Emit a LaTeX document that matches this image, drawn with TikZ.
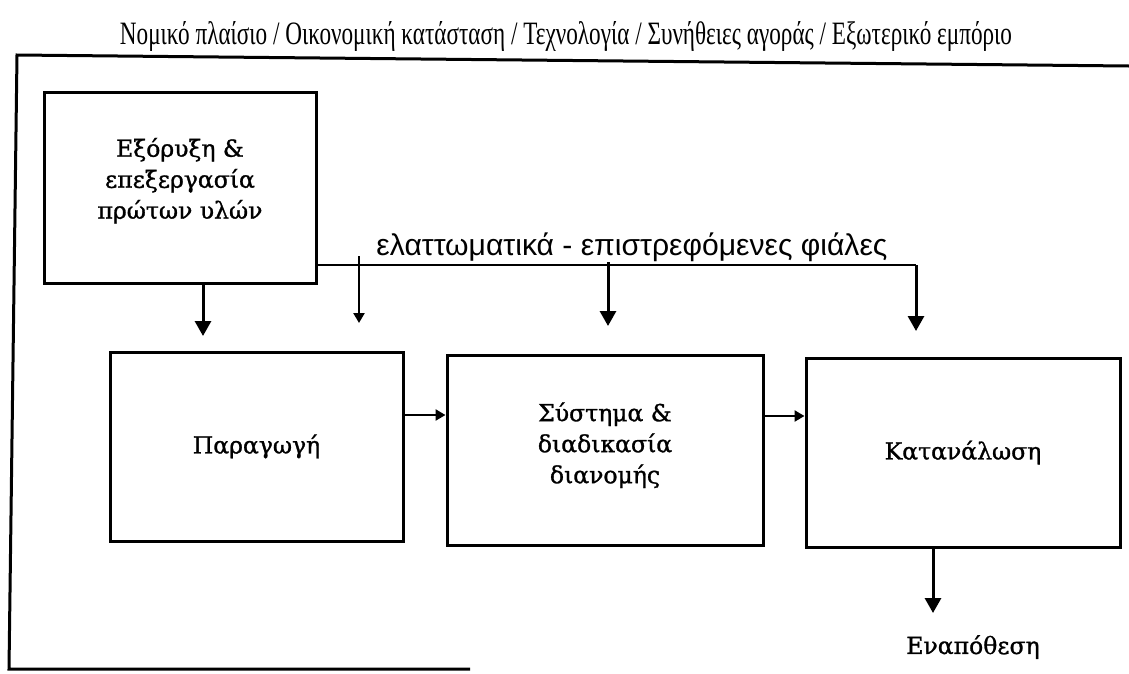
\documentclass[tikz,border=0pt]{standalone}
\usepackage{fontspec}
\setmainfont{Liberation Serif}
\newfontfamily\boxfont{DejaVu Serif}[FakeBold=1.2]
\newfontfamily\labfont{Liberation Sans}
\usetikzlibrary{arrows.meta}
\begin{document}
\begin{tikzpicture}[x=1pt,y=-1pt,
  stage/.style={draw, line width=3pt, align=center, inner sep=0pt,
    font=\boxfont\fontsize{23.5}{31}\selectfont},
  plain/.style={align=center, inner sep=0pt, font=\boxfont\fontsize{23.5}{31}\selectfont},
  arr/.style={line width=3pt, -{Triangle[width=16pt,length=15pt]}},
  sarr/.style={line width=2.4pt, -{Triangle[width=11pt,length=10pt]}},
  thinline/.style={line width=2.4pt}]
\useasboundingbox (0,0) rectangle (1129,673);
% outer frame
\coordinate (ftl) at (17,55);
\coordinate (ftr) at (1129,66);
\coordinate (fbl) at (9,669);
\coordinate (fbr) at (470,669);
\draw[line width=3pt] (ftr) -- (ftl) -- (fbl) -- (fbr);
% title
\node[inner sep=0pt] (title) at (566,36) {\resizebox{892pt}{23pt}{Νομικό πλαίσιο / Οικονομική κατάσταση / Τεχνολογία / Συνήθειες αγοράς / Εξωτερικό εμπόριο}};
% boxes
\node[stage, minimum width=272pt, minimum height=191pt] (ext) at (180,187.5) {\raisebox{6pt}[\height][\depth]{\begin{tabular}{@{}c@{}}Εξόρυξη \&\\[0pt]επεξεργασία\\[0pt]πρώτων υλών\end{tabular}}};
\node[stage, minimum width=293pt, minimum height=189pt] (prod) at (256.5,446.5) {Παραγωγή};
\node[stage, minimum width=316pt, minimum height=190pt] (dist) at (605,450) {\raisebox{4pt}[\height][\depth]{\begin{tabular}{@{}c@{}}Σύστημα \&\\[0pt]διαδικασία\\[0pt]διανομής\end{tabular}}};
\node[stage, minimum width=314pt, minimum height=189pt] (cons) at (963,452.5) {Κατανάλωση};
\node[plain] (disp) at (973,647) {Εναπόθεση};
% feedback label
\node[inner sep=0pt] (fblab) at (632,247) {\resizebox{511pt}{!}{\labfont ελαττωματικά - επιστρεφόμενες φιάλες}};
% feedback line
\coordinate (fy) at (0,265);
\coordinate (fend) at (916,265);
\draw[thinline] (ext.east |- fy) -- (fend);
\coordinate (d1s) at (359,256);
\coordinate (d1e) at (359,323);
\coordinate (d2s) at (608,262);
\coordinate (d2e) at (608,326);
\coordinate (d3e) at (916,331);
\draw[sarr] (d1s) -- (d1e);
\draw[arr] (d2s) -- (d2e);
\draw[arr] (fend) -- (d3e);
% main arrows
\coordinate (a0) at (203,336);
\draw[arr] (ext.south -| a0) -- (a0);
\coordinate (hy1) at (0,415);
\coordinate (hy2) at (0,416);
\draw[sarr] (prod.east |- hy1) -- (dist.west |- hy1);
\draw[sarr] (dist.east |- hy2) -- (cons.west |- hy2);
\coordinate (e1) at (933,613);
\draw[arr] (cons.south -| e1) -- (e1);
\end{tikzpicture}
\end{document}
